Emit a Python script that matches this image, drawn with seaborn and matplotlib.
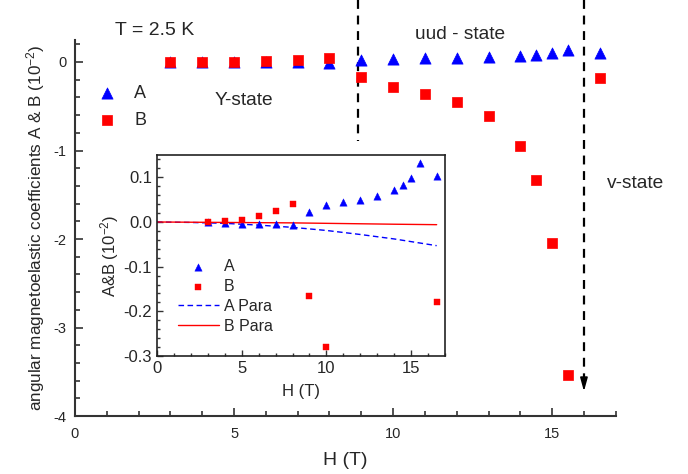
import matplotlib
matplotlib.use("Agg")
import matplotlib.pyplot as plt
from matplotlib.ticker import MultipleLocator, FormatStrFormatter
import seaborn as sns
import pandas as pd

# ---- data ----
H = [3, 4, 5, 6, 7, 8, 9, 10, 11, 12, 13, 14, 14.5, 15, 15.5, 16.5]
A = [0.0, -0.002, -0.004, -0.004, -0.005, -0.007, 0.022, 0.038, 0.045, 0.050,
     0.058, 0.072, 0.082, 0.098, 0.133, 0.104]
B = [0.0, 0.002, 0.005, 0.013, 0.025, 0.041, -0.165, -0.28, -0.36, -0.45,
     -0.61, -0.95, -1.33, -2.04, -3.54, -0.18]
H_para = [0, 2, 4, 6, 8, 10, 12, 14, 16.5]
A_para = [0.0, -0.001, -0.003, -0.007, -0.012, -0.019, -0.028, -0.038, -0.053]
B_para = [0.0, -0.0005, -0.001, -0.0015, -0.002, -0.003, -0.004, -0.005, -0.006]
boundaries = [8.9, 16.0]

df = pd.DataFrame({"H": H, "A": A, "B": B})
dpara = pd.DataFrame({"H": H_para, "A": A_para, "B": B_para})

sns.set_style("ticks")
plt.rcParams["font.family"] = ["Liberation Sans", "DejaVu Sans"]
plt.rcParams["mathtext.fontset"] = "custom"
plt.rcParams["mathtext.rm"] = "Liberation Sans"
plt.rcParams["mathtext.it"] = "Liberation Sans:italic"
plt.rcParams["axes.unicode_minus"] = False

BLUE = "#0000ff"
RED = "#ff0000"

fig = plt.figure(figsize=(6.88, 4.74), dpi=100)
ax = fig.add_axes([0.109, 0.122, 0.786, 0.794])

sns.scatterplot(data=df, x="H", y="A", ax=ax, marker="^", s=65, color=BLUE,
                edgecolor=BLUE, linewidth=0.5, label="A", zorder=3)
sns.scatterplot(data=df, x="H", y="B", ax=ax, marker="s", s=48, color=RED,
                edgecolor=RED, linewidth=0.5, label="B", zorder=3)

ax.set_xlim(0, 17)
ax.set_ylim(-4, 0.25)
ax.xaxis.set_major_locator(MultipleLocator(5))
ax.xaxis.set_minor_locator(MultipleLocator(1))
ax.yaxis.set_major_locator(MultipleLocator(1))
ax.yaxis.set_minor_locator(MultipleLocator(0.2))
ax.tick_params(which="both", direction="in", labelsize=10.5, width=1.2, color="#333333")
ax.tick_params(which="major", length=6)
ax.tick_params(which="minor", length=3.5)
ax.tick_params(axis="x", which="major", pad=8)
ax.tick_params(axis="y", which="major", pad=6)
for s in ("top", "right"):
    ax.spines[s].set_visible(False)
for s in ("left", "bottom"):
    ax.spines[s].set_linewidth(1.5)
    ax.spines[s].set_color("#333333")
ax.set_xlabel("H (T)", fontsize=14, labelpad=8)
ax.set_ylabel("angular magnetoelastic coefficients A & B (10$^{-2}$)", fontsize=12.3, labelpad=5)

ax.legend(loc="upper left", bbox_to_anchor=(0.013, 0.9), frameon=False,
          fontsize=13, handletextpad=0.5, labelspacing=0.55, borderaxespad=0)

# dashed boundaries
ytop = 0.25 + 40 / 88.75
ax.plot([boundaries[0], boundaries[0]], [ytop, -0.89], ls=(0, (4, 3)), color="black",
        lw=1.6, clip_on=False, zorder=2)
ax.plot([boundaries[1], boundaries[1]], [ytop, -3.58], ls=(0, (4, 3)), color="black",
        lw=1.6, clip_on=False, zorder=2)
ax.annotate("", xy=(boundaries[1], -3.72), xytext=(boundaries[1], -3.55),
            arrowprops=dict(arrowstyle="-|>,head_length=0.8,head_width=0.22",
                            color="black", lw=1.2, shrinkA=0, shrinkB=0),
            annotation_clip=False)

ax.text(1.25, 0.35, "T = 2.5 K", fontsize=14, va="center", ha="left")
ax.text(5.3, -0.44, "Y-state", fontsize=13.8, va="center", ha="center")
ax.text(12.1, 0.31, "uud - state", fontsize=13.8, va="center", ha="center")
ax.text(17.62, -1.37, "v-state", fontsize=13.8, va="center", ha="center", clip_on=False)

# ---- inset ----
ins = fig.add_axes([0.228, 0.249, 0.419, 0.424])
sns.scatterplot(data=df, x="H", y="A", ax=ins, marker="^", s=28, color=BLUE,
                edgecolor=BLUE, linewidth=0.3, label="A", zorder=3)
sns.scatterplot(data=df, x="H", y="B", ax=ins, marker="s", s=20, color=RED,
                edgecolor=RED, linewidth=0.3, label="B", zorder=3)
sns.lineplot(data=dpara, x="H", y="A", ax=ins, color=BLUE, lw=1.0,
             ls=(0, (4, 2.5)), label="A Para")
sns.lineplot(data=dpara, x="H", y="B", ax=ins, color=RED, lw=1.0, label="B Para")
ins.set_xlim(0, 17)
ins.set_ylim(-0.3, 0.15)
ins.xaxis.set_major_locator(MultipleLocator(5))
ins.xaxis.set_minor_locator(MultipleLocator(1))
ins.yaxis.set_major_locator(MultipleLocator(0.1))
ins.yaxis.set_minor_locator(MultipleLocator(0.02))
ins.tick_params(which="both", direction="in", labelsize=12, width=1.0, color="#333333",
                top=False, right=False)
ins.tick_params(which="major", length=4)
ins.tick_params(which="minor", length=2)
for s in ins.spines.values():
    s.set_linewidth(1.2)
    s.set_color("#222222")
ins.set_xlabel("H (T)", fontsize=12, labelpad=6)
ins.set_ylabel("A&B (10$^{-2}$)", fontsize=12, labelpad=2)
ins.yaxis.set_major_formatter(FormatStrFormatter("%.1f"))
ins.legend(loc="lower left", bbox_to_anchor=(0.05, 0.08), frameon=False, fontsize=11.5,
           handlelength=2.6, handletextpad=0.3, labelspacing=0.3, borderaxespad=0)

fig.savefig("out.png", dpi=100)
